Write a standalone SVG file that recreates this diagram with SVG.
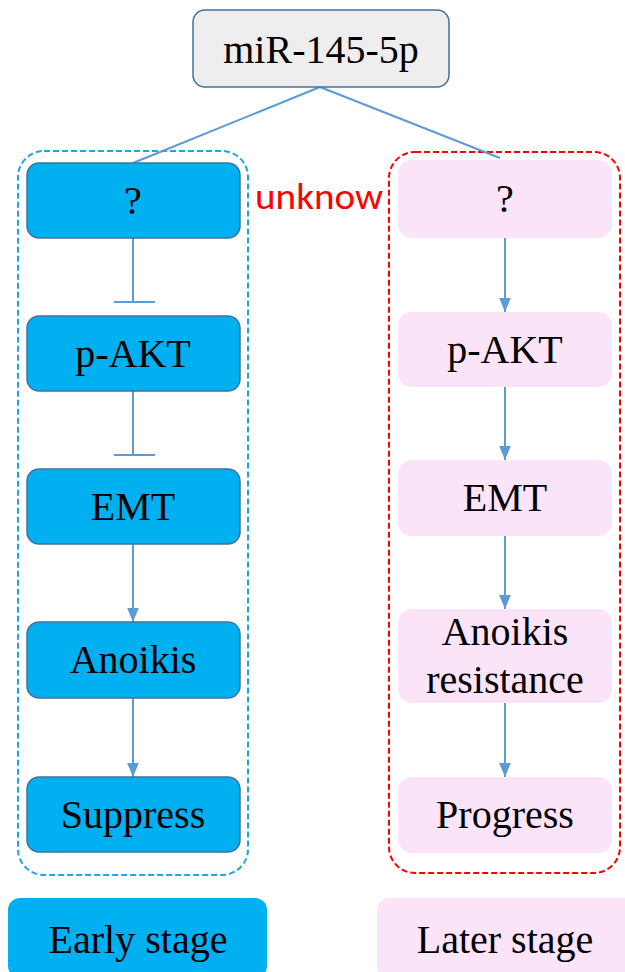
<svg xmlns="http://www.w3.org/2000/svg" width="625" height="972" viewBox="0 0 625 972">
<style>
.t{font-family:"Liberation Serif","Times New Roman",serif;font-size:40px;fill:#000;text-anchor:middle}
.lb{fill:#00B0F0;stroke:#41719C;stroke-width:1.5}
.rb{fill:#FBE3F8;stroke:none}
.c{stroke:#5B9BD5;stroke-width:2;fill:none}
</style>
<defs>
<marker id="ah2" viewBox="0 0 12 10" refX="12" refY="5" markerWidth="14" markerHeight="12" orient="auto" markerUnits="userSpaceOnUse">
<path d="M0,0 L12,5 L0,10 z" fill="#5B9BD5"/>
</marker>
</defs>
<rect x="0" y="0" width="625" height="972" fill="#fff"/>
<g id="containers">
<rect x="18" y="151" width="230" height="724" rx="26" fill="none" stroke="#1BA8E0" stroke-width="2" stroke-dasharray="6,3"/>
<rect x="389" y="152" width="231" height="721" rx="26" fill="none" stroke="#FF0000" stroke-width="2" stroke-dasharray="6,3"/>
</g>
<g id="connectors">
<line class="c" x1="320" y1="87" x2="133" y2="163"/>
<line class="c" x1="320" y1="87" x2="500" y2="158"/>
<line class="c" x1="133" y1="238" x2="133" y2="302"/>
<line class="c" x1="114" y1="302" x2="155" y2="302"/>
<line class="c" x1="133" y1="391" x2="133" y2="455"/>
<line class="c" x1="114" y1="455" x2="155" y2="455"/>
<line class="c" x1="133" y1="544" x2="133" y2="622" marker-end="url(#ah2)"/>
<line class="c" x1="133" y1="698" x2="133" y2="777" marker-end="url(#ah2)"/>
<line class="c" x1="505" y1="238" x2="505" y2="312" marker-end="url(#ah2)"/>
<line class="c" x1="505" y1="387" x2="505" y2="460" marker-end="url(#ah2)"/>
<line class="c" x1="505" y1="536" x2="505" y2="609" marker-end="url(#ah2)"/>
<line class="c" x1="505" y1="703" x2="505" y2="777" marker-end="url(#ah2)"/>
</g>
<g id="top">
<rect x="193" y="10" width="256" height="77" rx="12" fill="#EFEDED" stroke="#41719C" stroke-width="1.5"/>
<text class="t" x="321" y="63">miR-145-5p</text>
</g>
<g id="l1"><rect class="lb" x="27" y="163" width="213" height="75" rx="12"/><text class="t" x="133" y="214">?</text></g>
<g id="l2"><rect class="lb" x="27" y="316" width="213" height="75" rx="12"/><text class="t" x="133" y="367">p-AKT</text></g>
<g id="l3"><rect class="lb" x="27" y="469" width="213" height="75" rx="12"/><text class="t" x="133" y="520">EMT</text></g>
<g id="l4"><rect class="lb" x="27" y="622" width="213" height="76" rx="12"/><text class="t" x="133" y="673">Anoikis</text></g>
<g id="l5"><rect class="lb" x="27" y="777" width="213" height="75" rx="12"/><text class="t" x="133" y="828">Suppress</text></g>
<g id="unknow"><text x="319" y="209" font-family="Carlito,'Liberation Sans',Arial,sans-serif" font-size="36" fill="#FF0000" text-anchor="middle" textLength="128" lengthAdjust="spacingAndGlyphs">unknow</text></g>
<g id="r1"><rect class="rb" x="398" y="160" width="214" height="78" rx="14"/><text class="t" x="505" y="212">?</text></g>
<g id="r2"><rect class="rb" x="398" y="312" width="214" height="75" rx="14"/><text class="t" x="505" y="363">p-AKT</text></g>
<g id="r3"><rect class="rb" x="398" y="460" width="214" height="76" rx="14"/><text class="t" x="505" y="511">EMT</text></g>
<g id="r4"><rect class="rb" x="398" y="609" width="214" height="94" rx="14"/><text class="t" x="505" y="645">Anoikis</text><text class="t" x="505" y="693">resistance</text></g>
<g id="r5"><rect class="rb" x="398" y="777" width="214" height="76" rx="14"/><text class="t" x="505" y="828">Progress</text></g>
<g id="early"><rect x="8" y="898" width="259" height="80" rx="12" fill="#00B0F0"/><text class="t" x="138" y="953">Early stage</text></g>
<g id="later"><rect x="377" y="898" width="260" height="80" rx="12" fill="#FBE3F8"/><text class="t" x="505" y="953">Later stage</text></g>
</svg>
